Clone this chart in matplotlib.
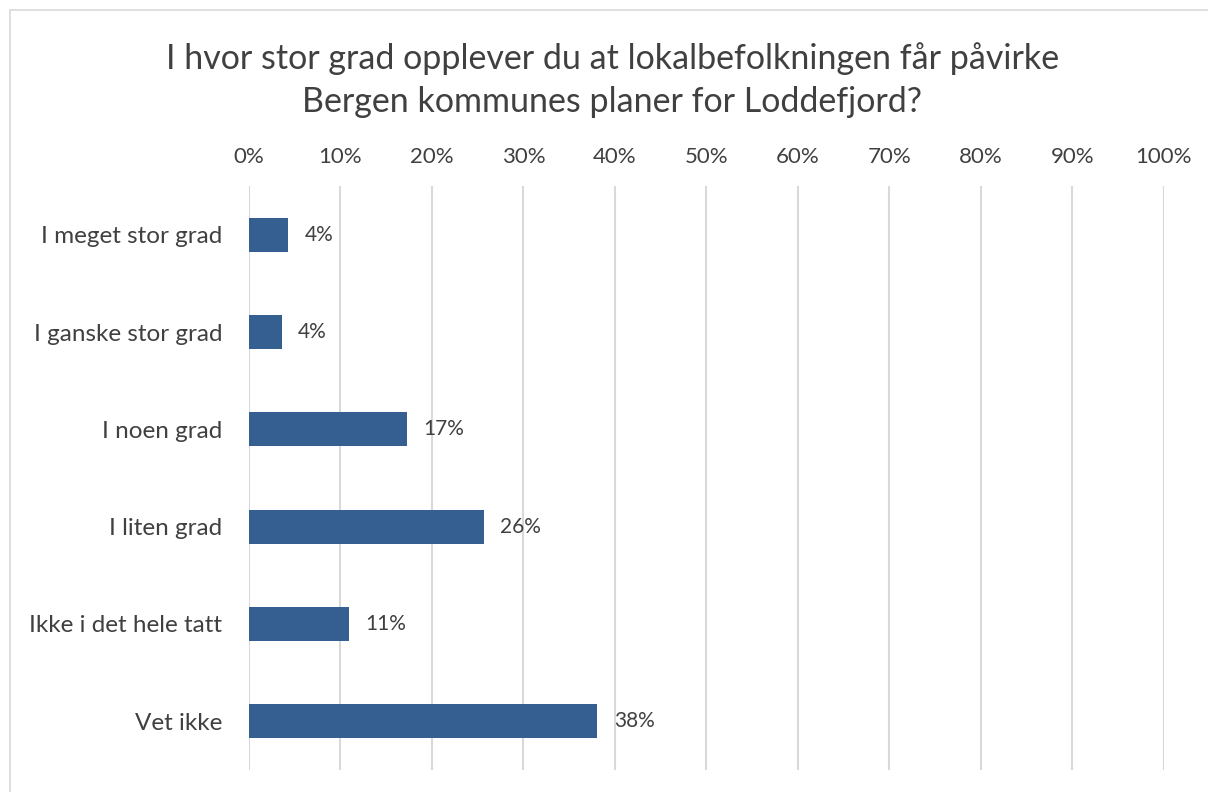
import matplotlib.pyplot as plt
from matplotlib.patches import Rectangle
from matplotlib.ticker import FuncFormatter

plt.rcParams['font.family'] = ['Lato', 'DejaVu Sans']

# data
categories = ['I meget stor grad', 'I ganske stor grad', 'I noen grad',
              'I liten grad', 'Ikke i det hele tatt', 'Vet ikke']
values = [4.3, 3.6, 17.3, 25.7, 10.9, 38.1]
labels = ['4%', '4%', '17%', '26%', '11%', '38%']

bar_color = '#355F91'
text_color = '#404040'
grid_color = '#D9D9D9'

fig = plt.figure(figsize=(12.08, 7.92), dpi=100)
ax = fig.add_axes([0.206, 0.028, 0.7575, 0.737])

# outer chart border
fig.patches.append(Rectangle((10 / 1208, -0.01), 1.02, 1 - 10 / 792 + 0.01,
                             transform=fig.transFigure, fill=False,
                             edgecolor=grid_color, linewidth=1.2))

y = range(len(categories))
ax.barh(y, values, height=0.35, color=bar_color, zorder=3)
for i, (v, lab) in enumerate(zip(values, labels)):
    ax.text(v + 1.8, i, lab, va='center', ha='left', fontsize=15, color=text_color)

ax.set_xlim(0, 100)
ax.set_ylim(len(categories) - 0.5, -0.5)
ax.set_yticks(list(y))
ax.set_yticklabels(categories, fontsize=17.5, color=text_color)
ax.set_xticks(range(0, 101, 10))
ax.xaxis.set_major_formatter(FuncFormatter(lambda v, p: f'{int(v)}%'))
ax.xaxis.tick_top()
ax.tick_params(axis='x', labelsize=16, labelcolor=text_color, length=0, pad=14)
ax.tick_params(axis='y', length=0, pad=19)
ax.grid(axis='x', color=grid_color, linewidth=1.5, zorder=0)
for s in ax.spines.values():
    s.set_visible(False)

fig.text(0.507, 0.899, 'I hvor stor grad opplever du at lokalbefolkningen får påvirke\n'
         'Bergen kommunes planer for Loddefjord?', ha='center', va='center',
         fontsize=24.5, color=text_color, linespacing=1.4)

fig.savefig('out.png', dpi=100)
